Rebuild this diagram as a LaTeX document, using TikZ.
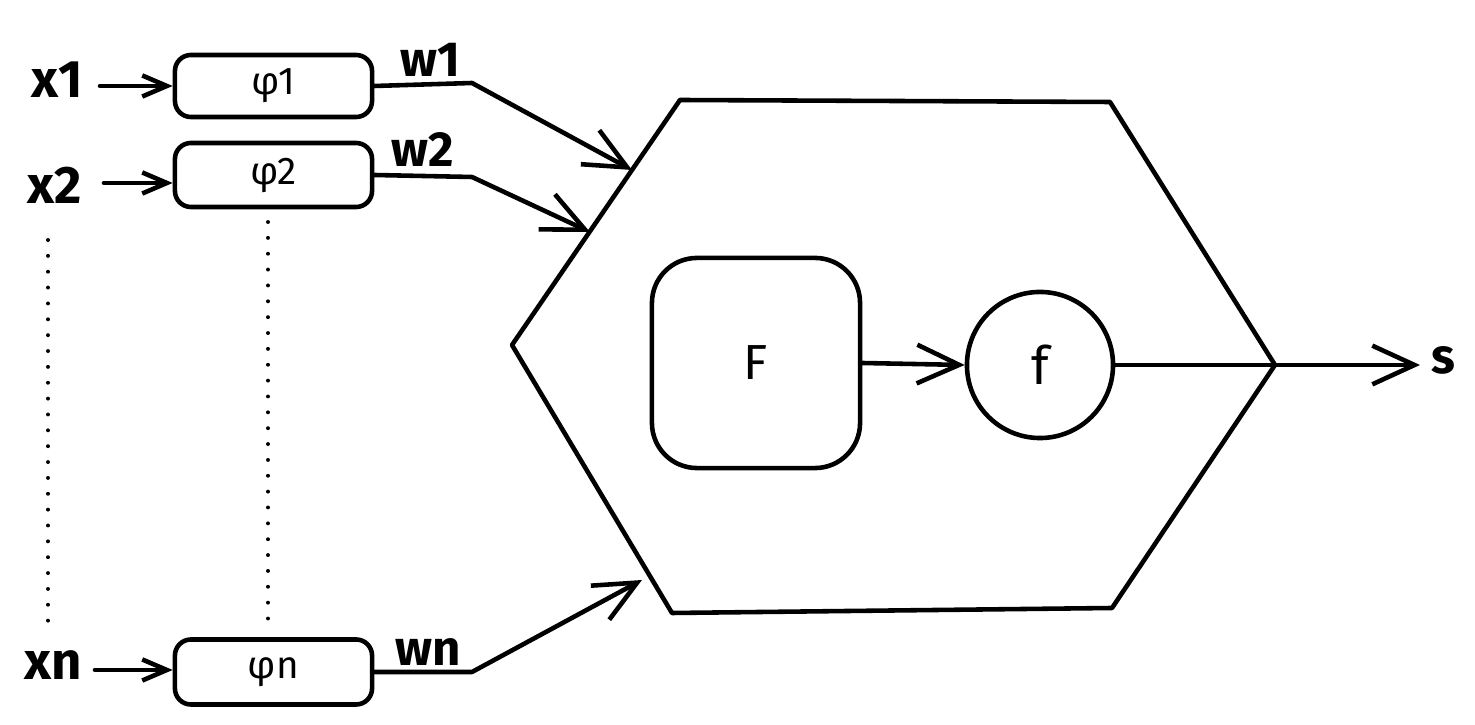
\documentclass[tikz,border=0pt]{standalone}
\usepackage{fontspec}
\setmainfont{Fira Sans}
\usetikzlibrary{arrows.meta}
\begin{document}
\begin{tikzpicture}[x=0.01cm,y=-0.01cm,
  line width=1.3pt, line join=round, line cap=round,
  lbl/.style={inner sep=0pt, font=\fontsize{15}{17}\selectfont\bfseries},
  wlbl/.style={inner sep=0pt, font=\fontsize{14}{16}\selectfont\bfseries},
  phibox/.style={draw, rounded corners=0.16cm, minimum width=1.97cm, inner sep=0pt, font=\fontsize{11}{13}\selectfont},
  small/.style={-{Straight Barb[length=7pt,width=6pt,line width=1.3pt]}},
  big/.style={-{Straight Barb[length=12pt,width=11pt,line width=1.3pt]}},
  dots/.style={line width=1.1pt, dash pattern=on 0.01pt off 4.5pt, line cap=round}]
\useasboundingbox (0,0) rectangle (1475,725);
% inputs
\node[lbl] (x1) at (57,80) {x1};
\node[lbl] (x2) at (55,185) {x2};
\node[lbl] (xn) at (53,665) {xn};
\node[phibox, minimum height=0.62cm] (p1) at (273.5,86) {φ1};
\node[phibox, minimum height=0.64cm] (p2) at (273.5,175) {φ2};
\node[phibox, minimum height=0.65cm] (pn) at (273.5,672) {φn};
\coordinate (a1) at (100,86);
\coordinate (a2) at (104,183);
\coordinate (an) at (95,670);
\draw[small] (a1) -- (a1 -| p1.west);
\draw[small] (a2) -- (a2 -| p2.west);
\draw[small] (an) -- (an -| pn.west);
% weights
\node[wlbl] (w1) at (430,60) {w1};
\node[wlbl] (w2) at (423,150) {w2};
\node[wlbl] (wn) at (428,652) {wn};
% hexagon
\coordinate (v1) at (680,100);
\coordinate (v2) at (1110,102);
\coordinate (v3) at (1275,365);
\coordinate (v4) at (1112,608);
\coordinate (v5) at (672,613);
\coordinate (v6) at (512,345);
\draw (v1) -- (v2) -- (v3) -- (v4) -- (v5) -- (v6) -- cycle;
\coordinate (c1) at (472,83);
\coordinate (c2) at (472,177);
\coordinate (cn) at (472,672);
\coordinate (h1) at (632,170);
\coordinate (h2) at (590,232);
\coordinate (hn) at (642,580);
\draw[big] (p1.east) -- (c1) -- (h1);
\draw[big] (p2.east) -- (c2) -- (h2);
\draw[big] (pn.east) -- (cn) -- (hn);
% inner blocks
\node[draw, rounded corners=0.45cm, minimum width=2.08cm, minimum height=2.10cm, inner sep=0pt,
  font=\fontsize{14}{16}\selectfont] (F) at (756,363) {F};
\node[draw, circle, minimum size=1.46cm, inner sep=0pt, font=\fontsize{15}{17}\selectfont] (f) at (1040,365) {f};
\draw[big] (F.east) -- (f.west);
\node[inner sep=0pt, font=\fontsize{14}{16}\selectfont\bfseries] (s) at (1443,360) {s};
\coordinate (se) at (1420,365);
\draw (f.east) -- (v3);
\draw[big] (v3) -- (se);
% dotted lines
\coordinate (d1a) at (48,240);
\coordinate (d1b) at (48,625);
\coordinate (d2a) at (268,222);
\coordinate (d2b) at (268,628);
\draw[dots] (d1a) -- (d1b);
\draw[dots] (d2a) -- (d2b);
\end{tikzpicture}
\end{document}
